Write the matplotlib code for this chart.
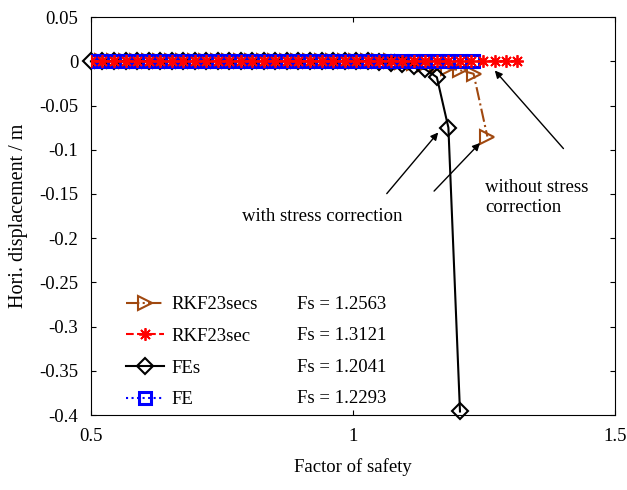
import matplotlib.pyplot as plt

plt.rcParams['font.family'] = ['Liberation Serif', 'DejaVu Serif']

# Factor of safety steps and horizontal displacements
x_fe = [0.5, 0.522, 0.544, 0.566, 0.588, 0.61, 0.632, 0.654, 0.676, 0.698, 0.72, 0.742,
        0.764, 0.786, 0.808, 0.83, 0.852, 0.874, 0.896, 0.918, 0.94, 0.962, 0.984, 1.006,
        1.028, 1.05, 1.072, 1.094, 1.116, 1.138, 1.16, 1.182, 1.204, 1.2293]
y_fe = [0.0] * 34

x_fes = [0.5, 0.522, 0.544, 0.566, 0.588, 0.61, 0.632, 0.654, 0.676, 0.698, 0.72, 0.742,
         0.764, 0.786, 0.808, 0.83, 0.852, 0.874, 0.896, 0.918, 0.94, 0.962, 0.984, 1.006,
         1.028, 1.05, 1.072, 1.094, 1.116, 1.138, 1.16, 1.182, 1.2041]
y_fes = [0.0, 0.0, 0.0, 0.0, 0.0, 0.0, 0.0, 0.0, 0.0, 0.0, 0.0, 0.0,
         0.0, 0.0, 0.0, 0.0, 0.0, 0.0, 0.0, 0.0, 0.0, 0.0, 0.0, 0.0,
         0.0, -0.001, -0.002, -0.003, -0.005, -0.009, -0.018, -0.075, -0.396]

x_rkfs = [0.5, 0.522, 0.544, 0.566, 0.588, 0.61, 0.632, 0.654, 0.676, 0.698, 0.72, 0.742,
          0.764, 0.786, 0.808, 0.83, 0.852, 0.874, 0.896, 0.918, 0.94, 0.962, 0.984, 1.006,
          1.028, 1.05, 1.072, 1.094, 1.116, 1.138, 1.16, 1.182, 1.204, 1.23, 1.2563]
y_rkfs = [0.0, 0.0, 0.0, 0.0, 0.0, 0.0, 0.0, 0.0, 0.0, 0.0, 0.0, 0.0,
          0.0, 0.0, 0.0, 0.0, 0.0, 0.0, 0.0, 0.0, 0.0, 0.0, 0.0, 0.0,
          0.0, 0.0, 0.0, -0.001, -0.002, -0.003, -0.005, -0.008, -0.010, -0.014, -0.085]

x_rkf = [0.5, 0.522, 0.544, 0.566, 0.588, 0.61, 0.632, 0.654, 0.676, 0.698, 0.72, 0.742,
         0.764, 0.786, 0.808, 0.83, 0.852, 0.874, 0.896, 0.918, 0.94, 0.962, 0.984, 1.006,
         1.028, 1.05, 1.072, 1.094, 1.116, 1.138, 1.16, 1.182, 1.204, 1.226, 1.248, 1.27,
         1.291, 1.3121]
y_rkf = [0.0] * 38

labels = ['RKF23secs', 'RKF23sec', 'FEs', 'FE']
fs_values = ['Fs = 1.2563', 'Fs = 1.3121', 'Fs = 1.2041', 'Fs = 1.2293']

brown = '#A0480F'
fsz = 13.5

fig = plt.figure(figsize=(6.27, 4.9), dpi=100)
ax = fig.add_axes([0.145, 0.153, 0.836, 0.812])

h1, = ax.plot(x_rkfs, y_rkfs, linestyle='-.', color=brown, marker='>', markersize=10,
              markerfacecolor='none', markeredgewidth=1.5, linewidth=1.5, zorder=2)
h3, = ax.plot(x_fes, y_fes, linestyle='-', color='black', marker='D', markersize=8,
              markerfacecolor='none', markeredgewidth=1.5, linewidth=1.5, zorder=3,
              clip_on=False)
h4, = ax.plot(x_fe, y_fe, linestyle=':', color='blue', marker='s', markersize=9,
              markerfacecolor='none', markeredgewidth=2.2, linewidth=1.5, zorder=4)
h2, = ax.plot(x_rkf, y_rkf, linestyle='--', color='red', marker=(8, 2, 0), markersize=9,
              markeredgewidth=1.3, linewidth=1.5, zorder=5)

ax.legend([h1, h2, h3, h4], labels, loc='lower left', bbox_to_anchor=(0.035, -0.025),
          frameon=False, fontsize=fsz, handlelength=2.0, handletextpad=0.4,
          labelspacing=0.77)
for i, t in enumerate(fs_values):
    ax.text(0.893, -0.275 - 0.0355 * i, t, fontsize=fsz, va='center', ha='left')

# annotations
ax.annotate('', xy=(1.166, -0.078), xytext=(1.061, -0.152),
            arrowprops=dict(arrowstyle='-|>', color='black', lw=1, mutation_scale=11))
ax.annotate('', xy=(1.246, -0.090), xytext=(1.151, -0.149),
            arrowprops=dict(arrowstyle='-|>', color='black', lw=1, mutation_scale=11))
ax.annotate('', xy=(1.267, -0.008), xytext=(1.405, -0.101),
            arrowprops=dict(arrowstyle='-|>', color='black', lw=1, mutation_scale=11))
ax.text(0.788, -0.175, 'with stress correction', fontsize=fsz, va='center', ha='left')
ax.text(1.252, -0.154, 'without stress\ncorrection', fontsize=fsz, va='center',
        ha='left', multialignment='left', linespacing=1.3)

ax.set_xlim(0.5, 1.5)
ax.set_ylim(-0.4, 0.05)
ax.set_xticks([0.5, 1, 1.5])
ax.set_xticklabels(['0.5', '1', '1.5'])
ax.set_yticks([0.05, 0, -0.05, -0.1, -0.15, -0.2, -0.25, -0.3, -0.35, -0.4])
ax.set_yticklabels(['0.05', '0', '-0.05', '-0.1', '-0.15', '-0.2', '-0.25', '-0.3', '-0.35', '-0.4'])
ax.tick_params(direction='in', top=True, right=True, labelsize=fsz, pad=9)
ax.set_xlabel('Factor of safety', fontsize=13.5, labelpad=10)
ax.set_ylabel('Hori. displacement / m', fontsize=14.5, labelpad=8)

plt.savefig('out.png', dpi=100)
